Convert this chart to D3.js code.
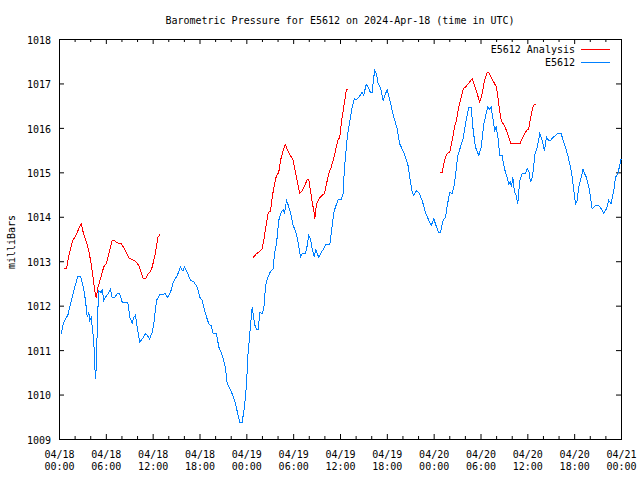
<!DOCTYPE html>
<html><head><meta charset="utf-8">
<script src="https://cdn.jsdelivr.net/npm/d3@7"></script>
<style>
body{margin:0;background:#fff}
text{font-family:"DejaVu Sans Mono","Liberation Mono",monospace;font-size:10px;fill:#000}
</style>
</head><body><svg id="c" width="640" height="480"></svg>
<script>
// Hours since 2024-04-18 00:00 UTC
const blueHours = [0.22,0.47,0.77,1.06,1.41,1.83,2.34,2.69,3.04,3.33,3.55,3.75,3.88,4.06,4.19,4.39,4.52,4.65,4.74,4.91,5.03,5.34,5.47,5.68,5.89,6.11,6.32,6.53,6.75,7.05,7.39,7.72,8.03,8.75,9.01,9.31,9.52,9.74,9.95,10.29,10.59,11.02,11.24,11.53,11.88,12.08,12.43,12.85,13.58,13.87,14.22,14.57,15.08,15.5,15.8,16.01,16.36,16.78,17.2,17.64,17.97,18.28,18.7,19.13,19.43,19.69,20.11,20.41,20.84,21.27,21.48,22.12,22.55,22.84,23.1,23.4,23.7,23.96,24.12,24.38,24.69,24.98,25.24,25.46,25.66,25.97,26.17,26.39,26.61,26.81,27.03,27.38,27.54,27.8,28.09,28.4,28.66,28.82,29.08,29.25,29.59,29.94,30.23,30.53,30.87,31.09,31.51,31.73,31.94,32.15,32.37,32.67,32.79,33.01,33.22,33.52,33.86,34.08,34.63,34.85,35.14,35.49,35.7,36.09,36.34,36.51,36.68,36.86,37.06,37.28,37.5,37.79,38.05,38.34,38.78,38.98,39.29,39.55,39.84,40.06,40.26,40.39,40.61,40.83,41.12,41.47,41.67,41.98,42.28,42.62,42.95,43.26,43.59,44.11,44.62,44.88,45.18,45.39,45.73,46.03,46.46,46.89,47.31,47.62,47.95,48.3,48.59,48.81,49.15,49.45,49.67,50.0,50.31,50.6,51.03,51.37,51.72,52.01,52.43,52.74,53.0,53.29,53.72,54.02,54.36,54.7,54.87,55.05,55.3,55.56,55.77,55.94,56.15,56.4,56.71,57.01,57.35,57.56,57.78,57.9,58.07,58.29,58.51,58.71,58.97,59.28,59.7,59.92,60.12,60.34,60.56,60.76,60.85,61.2,61.53,61.84,62.13,62.39,62.68,62.9,63.25,63.54,63.76,64.27,64.53,64.82,65.12,65.46,65.68,65.89,66.1,66.32,66.52,66.83,67.09,67.26,67.51,67.81,68.03,68.24,68.67,69.09,69.4,69.73,70.07,70.37,70.67,71.01,71.23,71.52,71.78,71.96];
const blueValues = [1011.38,1011.6,1011.72,1011.79,1012.05,1012.35,1012.67,1012.67,1012.44,1012.13,1011.75,1011.86,1011.68,1011.75,1011.53,1011.23,1010.63,1010.37,1010.89,1011.9,1012.35,1012.31,1012.38,1012.13,1012.2,1012.25,1012.31,1012.38,1012.19,1012.19,1012.28,1012.28,1012.09,1012.09,1011.75,1011.62,1011.75,1011.8,1011.53,1011.19,1011.26,1011.38,1011.35,1011.26,1011.41,1011.6,1012.13,1012.26,1012.28,1012.19,1012.31,1012.54,1012.69,1012.88,1012.79,1012.88,1012.76,1012.58,1012.55,1012.43,1012.2,1012.13,1011.83,1011.6,1011.56,1011.38,1011.38,1011.08,1010.9,1010.6,1010.27,1010.03,1009.8,1009.58,1009.39,1009.39,1009.73,1010.25,1010.85,1011.38,1011.98,1011.6,1011.47,1011.47,1011.86,1011.83,1011.94,1012.43,1012.62,1012.69,1012.78,1012.84,1013.18,1013.4,1013.93,1014.11,1014.17,1014.08,1014.38,1014.3,1014.11,1013.81,1013.7,1013.48,1013.1,1013.18,1013.18,1013.36,1013.59,1013.52,1013.29,1013.1,1013.29,1013.18,1013.1,1013.21,1013.29,1013.39,1013.39,1013.7,1014.11,1014.3,1014.39,1014.39,1014.54,1015.13,1015.43,1015.8,1016.03,1016.25,1016.48,1016.67,1016.65,1016.7,1016.81,1016.74,1017.0,1016.92,1016.81,1016.81,1017.15,1017.3,1017.22,1017.0,1016.92,1016.63,1016.74,1016.87,1016.67,1016.4,1016.18,1015.99,1015.65,1015.46,1015.2,1014.9,1014.56,1014.49,1014.6,1014.56,1014.38,1014.11,1013.93,1013.81,1013.97,1013.78,1013.66,1013.66,1013.93,1014.0,1014.26,1014.56,1014.53,1014.75,1015.39,1015.58,1015.77,1016.1,1016.48,1016.48,1015.95,1015.58,1015.39,1015.58,1016.1,1016.36,1016.48,1016.43,1016.48,1016.18,1015.95,1016.03,1015.84,1015.39,1015.38,1015.09,1014.9,1014.75,1014.8,1014.68,1014.9,1014.56,1014.49,1014.3,1014.83,1014.98,1014.98,1015.09,1015.05,1014.79,1014.9,1015.13,1015.39,1015.58,1015.88,1015.73,1015.5,1015.8,1015.73,1015.73,1015.8,1015.84,1015.88,1015.88,1015.73,1015.58,1015.39,1015.13,1014.9,1014.6,1014.3,1014.38,1014.68,1014.9,1015.09,1014.98,1014.9,1014.68,1014.45,1014.19,1014.26,1014.26,1014.19,1014.09,1014.19,1014.38,1014.3,1014.6,1014.9,1014.98,1015.17,1015.32];

// null separates the analysis segments
const redHours = [0.64,0.9,1.19,1.7,2.05,2.47,2.78,3.04,3.46,3.75,4.06,4.32,4.52,4.7,4.91,5.25,5.68,5.98,6.32,6.75,7.05,7.47,7.94,8.46,8.88,9.44,9.86,10.16,10.47,10.72,11.02,11.31,11.66,11.88,12.3,12.59,12.85,
  null,
  24.81,25.24,25.66,25.97,26.17,26.39,26.74,27.03,27.25,27.54,27.8,28.09,28.31,28.66,28.91,29.25,29.59,29.94,30.23,30.53,30.78,31.09,31.39,31.73,31.94,32.15,32.37,32.58,32.71,32.92,33.22,33.52,33.95,34.2,34.5,34.81,35.06,35.36,35.65,35.91,36.09,36.34,36.55,36.73,36.93,
  null,
  48.72,49.03,49.32,49.67,50.0,50.31,50.6,50.86,51.15,51.46,51.72,52.01,52.43,52.87,53.16,53.51,53.84,54.15,54.44,54.79,54.99,55.3,55.64,55.98,56.28,56.5,56.71,57.01,57.35,57.69,57.87,58.97,59.28,59.57,59.83,60.12,60.34,60.69,60.99];
const redValues = [1012.84,1012.84,1013.14,1013.48,1013.57,1013.74,1013.85,1013.66,1013.44,1013.25,1012.95,1012.62,1012.35,1012.19,1012.41,1012.62,1012.89,1012.95,1013.18,1013.48,1013.47,1013.42,1013.4,1013.25,1013.09,1013.04,1012.99,1012.91,1012.76,1012.63,1012.62,1012.71,1012.79,1012.88,1013.21,1013.54,1013.61,
  null,
  1013.1,1013.18,1013.23,1013.29,1013.48,1013.74,1014.11,1014.13,1014.45,1014.75,1014.94,1015.01,1015.28,1015.5,1015.64,1015.5,1015.39,1015.28,1015.01,1014.75,1014.54,1014.6,1014.71,1014.84,1014.84,1014.6,1014.34,1014.15,1013.97,1014.3,1014.41,1014.47,1014.54,1014.75,1014.98,1015.13,1015.28,1015.5,1015.73,1015.8,1016.1,1016.4,1016.63,1016.85,1016.89,
  null,
  1015.0,1015.01,1015.28,1015.44,1015.46,1015.73,1016.03,1016.19,1016.48,1016.7,1016.89,1016.93,1017.02,1017.12,1016.97,1016.78,1016.59,1016.78,1017.08,1017.26,1017.26,1017.15,1017.04,1016.93,1016.55,1016.25,1016.14,1016.06,1015.91,1015.73,1015.65,1015.65,1015.77,1015.88,1015.95,1015.99,1016.22,1016.51,1016.55];

const yTicks = [1009,1010,1011,1012,1013,1014,1015,1016,1017,1018];
const xTickHours = [0,6,12,18,24,30,36,42,48,54,60,66,72];
const xTickLabels = ["04/18 00:00","04/18 06:00","04/18 12:00","04/18 18:00","04/19 00:00","04/19 06:00","04/19 12:00","04/19 18:00","04/20 00:00","04/20 06:00","04/20 12:00","04/20 18:00","04/21 00:00"];
const seriesNames = ["E5612 Analysis","E5612"];
const seriesColors = ["#ff0000","#0080ff"];
const titleText = "Barometric Pressure for E5612 on 2024-Apr-18 (time in UTC)";
const yLabel = "milliBars";

const t0 = Date.UTC(2024,3,18,0,0,0);
const toDate = h => new Date(t0 + h*3600e3);

const L=59, R=621, T=39, B=439;
const svg = d3.select("#c");
const x = d3.scaleUtc().domain([toDate(0), toDate(72)]).range([L,R]);
const y = d3.scaleLinear().domain([1009,1018]).range([B,T]);

svg.append("rect").attr("width",640).attr("height",480).attr("fill","#fff");

// title
svg.append("text").attr("x",340).attr("y",24).attr("text-anchor","middle").text(titleText);

// minor ticks every 2h
const minorHours = d3.range(0,73,2).filter(h=>h%6!==0);
const majorDates = xTickHours.map(toDate);
const minorDates = minorHours.map(toDate);

const gx = svg.append("g").attr("transform",`translate(0,${B})`)
  .call(d3.axisBottom(x).tickValues(majorDates).tickSize(-5).tickSizeOuter(0).tickPadding(10)
    .tickFormat((d,i)=>xTickLabels[i]));
gx.select(".domain").remove();
gx.selectAll("text").each(function(d,i){
  const parts = xTickLabels[i].split(" ");
  const s = d3.select(this).text(null).attr("y",null).attr("dy",null);
  s.append("tspan").attr("x",0).attr("y",19).text(parts[0]);
  s.append("tspan").attr("x",0).attr("y",31).text(parts[1]);
});
const gxm = svg.append("g").attr("transform",`translate(0,${B})`)
  .call(d3.axisBottom(x).tickValues(minorDates).tickSize(-3).tickSizeOuter(0).tickFormat(""));
gxm.select(".domain").remove();

const gxt = svg.append("g").attr("transform",`translate(0,${T})`)
  .call(d3.axisTop(x).tickValues(majorDates).tickSize(-5).tickSizeOuter(0).tickFormat(""));
gxt.select(".domain").remove();
const gxtm = svg.append("g").attr("transform",`translate(0,${T})`)
  .call(d3.axisTop(x).tickValues(minorDates).tickSize(-3).tickSizeOuter(0).tickFormat(""));
gxtm.select(".domain").remove();

const gy = svg.append("g").attr("transform",`translate(${L},0)`)
  .call(d3.axisLeft(y).tickValues(yTicks).tickSize(-5).tickSizeOuter(0).tickPadding(8).tickFormat(d3.format("d")));
gy.select(".domain").remove();
gy.selectAll("text").attr("dy","0.42em");
const gyr = svg.append("g").attr("transform",`translate(${R},0)`)
  .call(d3.axisRight(y).tickValues(yTicks).tickSize(-5).tickSizeOuter(0).tickFormat(""));
gyr.select(".domain").remove();

svg.selectAll(".tick text").style("font-family",'"DejaVu Sans Mono",monospace').style("font-size","10px").attr("fill","#000");
svg.selectAll(".tick line").attr("stroke","#000");

// frame
svg.append("rect").attr("x",L+0.5).attr("y",T+0.5).attr("width",R-L).attr("height",B-T)
  .attr("fill","none").attr("stroke","#000").attr("stroke-width",1).attr("shape-rendering","crispEdges");

// y label
svg.append("text").attr("transform",`translate(15,242) rotate(-90)`).attr("text-anchor","middle").text(yLabel);

const line = d3.line().defined(d=>d[0]!==null && d[1]!==null)
  .x(d=>x(toDate(d[0]))+0.5).y(d=>y(d[1])+0.5);

const blueData = blueHours.map((h,i)=>[h,blueValues[i]]);
const redData = redHours.map((h,i)=>[h,redValues[i]]);

svg.append("path").datum(blueData).attr("d",line).attr("fill","none")
  .attr("stroke",seriesColors[1]).attr("stroke-width",1).attr("shape-rendering","crispEdges");
svg.append("path").datum(redData).attr("d",line).attr("fill","none")
  .attr("stroke",seriesColors[0]).attr("stroke-width",1).attr("shape-rendering","crispEdges");

// legend
seriesNames.forEach((n,i)=>{
  const ly = 49 + i*13;
  svg.append("text").attr("x",575).attr("y",ly+3.5).attr("text-anchor","end").text(n);
  svg.append("line").attr("x1",581).attr("x2",610).attr("y1",ly+0.5).attr("y2",ly+0.5)
    .attr("stroke",seriesColors[i]).attr("stroke-width",1).attr("shape-rendering","crispEdges");
});
</script></body></html>
